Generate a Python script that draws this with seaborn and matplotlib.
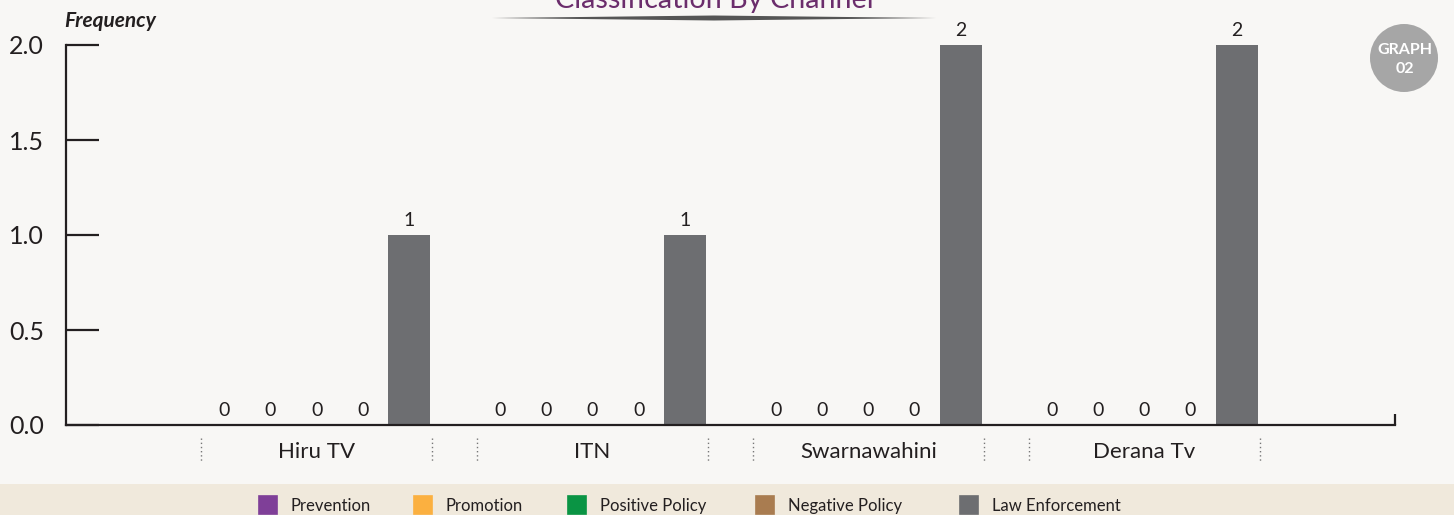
import matplotlib
matplotlib.use("Agg")
import matplotlib.pyplot as plt
import seaborn as sns
import pandas as pd
from matplotlib.patches import Polygon, Ellipse, Rectangle
import matplotlib.transforms as mtransforms

# ---------------- data ----------------
channels = ["Hiru TV", "ITN", "Swarnawahini", "Derana Tv"]
categories = ["Prevention", "Promotion", "Positive Policy", "Negative Policy", "Law Enforcement"]
prevention = [0, 0, 0, 0]
promotion = [0, 0, 0, 0]
positive_policy = [0, 0, 0, 0]
negative_policy = [0, 0, 0, 0]
law_enforcement = [1, 1, 2, 2]
yticks = [0.0, 0.5, 1.0, 1.5, 2.0]
colors = ["#7f3f98", "#fbb040", "#0a9444", "#a97c50", "#6d6e71"]
title = "Classification By Channel"

series = [prevention, promotion, positive_policy, negative_policy, law_enforcement]
rows = []
for cat, vals in zip(categories, series):
    for ch, v in zip(channels, vals):
        rows.append({"Channel": ch, "Category": cat, "Frequency": v})
df = pd.DataFrame(rows)

# ---------------- figure ----------------
W, H = 1454, 515
bg = "#f8f7f5"
ink = "#231f20"
sns.set_theme(style="white")
plt.rcParams["font.family"] = ["Lato", "DejaVu Sans"]

fig = plt.figure(figsize=(W / 100, H / 100), dpi=100, facecolor=bg)
ax = fig.add_axes([66 / W, 1 - 425 / H, (1395 - 66) / W, 380 / H])
ax.set_facecolor(bg)

sns.barplot(data=df, x="Channel", y="Frequency", hue="Category",
            order=channels, hue_order=categories, palette=colors,
            saturation=1, width=0.835, gap=0.09, ax=ax, legend=True)

for p in ax.patches:
    if p.get_height() == 0:
        p.set_edgecolor(p.get_facecolor())
        p.set_linewidth(1.2)
    else:
        p.set_linewidth(0)

for c in ax.containers:
    ax.bar_label(c, fmt="%d", padding=4, fontsize=14, color=ink)

ax.set_ylim(0, 2.0)
ax.set_xlim(-0.908, 3.908)
ax.set_yticks(yticks)
ax.set_yticklabels([f"{t:.1f}" for t in yticks])
ax.set_xlabel("")
ax.set_ylabel("")
ax.tick_params(axis="y", direction="in", length=24, width=1.6, pad=16,
               labelsize=18, color=ink, labelcolor=ink, left=True)
ax.tick_params(axis="x", length=0, pad=12, labelsize=16, labelcolor=ink)
for s in ["top", "right"]:
    ax.spines[s].set_visible(False)
for s in ["left", "bottom"]:
    ax.spines[s].set_color(ink)
    ax.spines[s].set_linewidth(1.6)

# right end tick of x axis
ax.plot([1, 1], [0, 0.03], transform=ax.transAxes, color=ink, lw=1.6,
        clip_on=False, solid_capstyle="butt")

# dotted group separators
trans = mtransforms.blended_transform_factory(ax.transData, ax.transAxes)
for i in range(len(channels)):
    for dx in (-0.418, 0.418):
        ax.plot([i + dx, i + dx], [-0.034, -0.097], transform=trans,
                color="#777777", lw=1, ls=(0, (1, 2)), clip_on=False)

# legend band and entries (one small legend per entry, placed as in the source)
handles, labels = ax.get_legend_handles_labels()
ax.get_legend().remove()
fig.patches.append(Rectangle((0, 0), 1, 1 - 484 / H, transform=fig.transFigure,
                             facecolor="#f0e9dc", edgecolor="none", zorder=0))
legend_left_px = [259, 414, 568, 756, 960]
for h, lab, xl in zip(handles, labels, legend_left_px):
    leg = fig.legend([h], [lab], loc="center left",
                     bbox_to_anchor=(xl / W, 1 - 505 / H),
                     frameon=False, fontsize=12, handlelength=1.1, handleheight=1.3,
                     handletextpad=0.8, borderpad=0, borderaxespad=0,
                     labelcolor=ink)

# y axis caption
fig.text(64 / W, 1 - 21 / H, "Frequency", fontsize=15, fontstyle="italic",
         fontweight="bold", color=ink, ha="left", va="center")

# title (cut at top) and underline swoosh
fig.text(714 / W, 1 - 8 / H, title, fontsize=20.7, color="#6b2d6c",
         ha="center", va="baseline")
pts = [(492, 18), (714, 15.5), (936, 18), (714, 20.5)]
fig.patches.append(Polygon([(x / W, 1 - y / H) for x, y in pts], closed=True,
                           transform=fig.transFigure, facecolor="#555555",
                           edgecolor="none"))

# GRAPH 02 badge
fig.patches.append(Ellipse((1404 / W, 1 - 58 / H), 68 / W, 68 / H,
                           transform=fig.transFigure,
                           facecolor="#a6a6a6", edgecolor="none"))
fig.text(1405 / W, 1 - 50.5 / H, "GRAPH", fontsize=11.5, fontweight="bold",
         color="white", ha="center", va="center")
fig.text(1405 / W, 1 - 69 / H, "02", fontsize=11.5, fontweight="bold",
         color="white", ha="center", va="center")

fig.savefig("out.png", dpi=100, facecolor=bg)
